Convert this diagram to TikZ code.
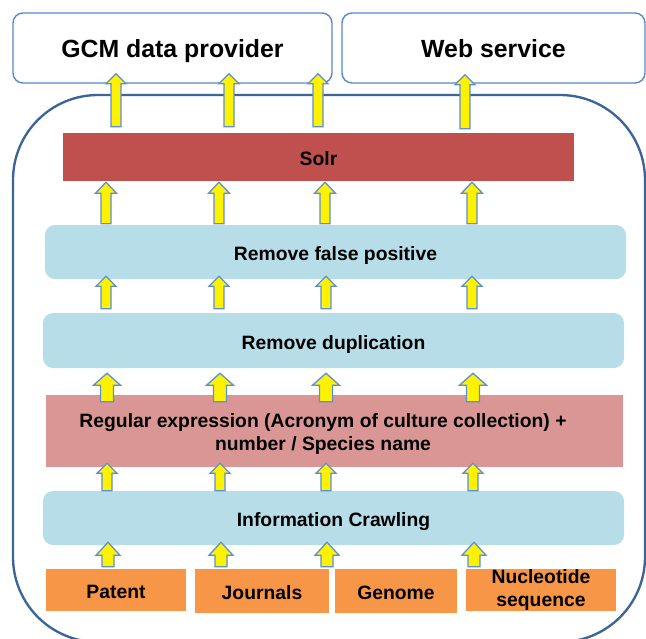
\documentclass[tikz,border=0pt]{standalone}
\usepackage{fontspec}
\setmainfont{Liberation Sans}
\usetikzlibrary{calc}
\definecolor{boxblue}{HTML}{B7DEE8}
\definecolor{solrred}{HTML}{C0504D}
\definecolor{regexred}{HTML}{D99694}
\definecolor{srcorange}{HTML}{F79646}
\definecolor{frameblue}{HTML}{3C6496}
\definecolor{topblue}{HTML}{5A88C6}
\definecolor{arrblue}{HTML}{5B8FD6}
\newlength{\pxu}\setlength{\pxu}{0.03cm}
% block arrow: tip, base, half shaft, half head, head length (px)
\newcommand{\uparr}[5]{%
\filldraw[blockarr] let \p1=#1, \p2=#2 in
 ({\x1-#3*\pxu},\y2) -- ({\x1-#3*\pxu},{\y1-#5*\pxu}) -- ({\x1-#4*\pxu},{\y1-#5*\pxu}) -- (\x1,\y1)
 -- ({\x1+#4*\pxu},{\y1-#5*\pxu}) -- ({\x1+#3*\pxu},{\y1-#5*\pxu}) -- ({\x1+#3*\pxu},\y2) -- cycle;}
\begin{document}
\begin{tikzpicture}[x=0.03cm,y=-0.03cm,
  lbl/.style={font=\bfseries\fontsize{16.5}{19.6}\selectfont, inner sep=0pt},
  oneline/.style={text height=15.3pt, text depth=0pt},
  topbox/.style={draw=topblue, line width=1.2pt, rounded corners=0.3cm, fill=white,
    font=\bfseries\fontsize{21.2}{25}\selectfont, text height=17pt, text depth=0pt},
  stagebox/.style={fill=boxblue, rounded corners=0.3cm, lbl, oneline},
  flatbox/.style={lbl},
  blockarr/.style={fill=yellow, draw=arrblue, line width=1.1pt, line join=miter}]
\useasboundingbox (0,0) rectangle (646,638);
% outer frame
\draw[frameblue, line width=2pt, rounded corners=2.55cm] (13,95) rectangle (645,642);
% outputs
\node[topbox, minimum width=9.57cm, minimum height=2.1cm] (gcm) at (172.5,48) {GCM data provider};
\node[topbox, minimum width=9.09cm, minimum height=2.1cm] (web) at (493.5,48) {Web service};
% stages
\node[flatbox, oneline, fill=solrred, minimum width=15.33cm, minimum height=1.44cm] (solr) at (318.5,157) {Solr};
\node[stagebox, minimum width=17.43cm, minimum height=1.62cm] (rfp) at (335.5,252) {Remove false positive};
\node[stagebox, minimum width=17.43cm, minimum height=1.65cm] (rd) at (333.5,340.5) {Remove duplication};
\node[flatbox, fill=regexred, minimum width=17.31cm, minimum height=2.16cm] (regex) at (334.5,431) {};
\node[lbl, align=center] (regextxt) at (323,434) {Regular expression (Acronym of culture collection) +\\number / Species name};
\node[stagebox, minimum width=17.43cm, minimum height=1.62cm] (ic) at (333.5,518) {Information Crawling};
% sources
\node[flatbox, oneline, fill=srcorange, minimum width=4.2cm, minimum height=1.26cm] (patent) at (116,590) {Patent};
\node[flatbox, oneline, fill=srcorange, minimum width=4.02cm, minimum height=1.32cm] (journals) at (262,591) {Journals};
\node[flatbox, oneline, fill=srcorange, minimum width=3.66cm, minimum height=1.32cm] (genome) at (396,591) {Genome};
\node[flatbox, fill=srcorange, minimum width=4.5cm, minimum height=1.26cm, align=center] (nucl) at (541,590) {Nucleotide\\sequence};
% arrows
\foreach \ax in {116,229,318} {\uparr{($(\ax,0 |- gcm.south)+(0,-10)$)}{($(\ax,0 |- solr.north)+(0,-6)$)}{5}{10}{10}}
\uparr{($(465,0 |- web.south)+(0,-9)$)}{($(465,0 |- solr.north)+(0,-4)$)}{5}{10}{10}
\foreach \ax in {106,219,325,472} {\uparr{($(\ax,0 |- solr.south)+(0,1)$)}{($(\ax,0 |- rfp.north)+(0,-1)$)}{5}{10.5}{11}}
\foreach \ax in {106,219,326,472} {\uparr{($(\ax,0 |- rfp.south)+(0,-3)$)}{($(\ax,0 |- rd.north)+(0,-4)$)}{5}{10}{10}}
\foreach \ax in {107,220,326,473} {\uparr{($(\ax,0 |- rd.south)+(0,5)$)}{($(\ax,0 |- regex.north)+(0,7)$)}{6.5}{13.5}{12}}
\foreach \ax in {107,220,326,473} {\uparr{($(\ax,0 |- regex.south)+(0,-4)$)}{(\ax,0 |- ic.north)}{5}{10}{10}}
\foreach \ax in {108,221,327,474} {\uparr{($(\ax,0 |- ic.south)+(0,-3)$)}{($(\ax,0 |- patent.north)+(0,-2)$)}{6}{12}{13}}
\end{tikzpicture}
\end{document}
